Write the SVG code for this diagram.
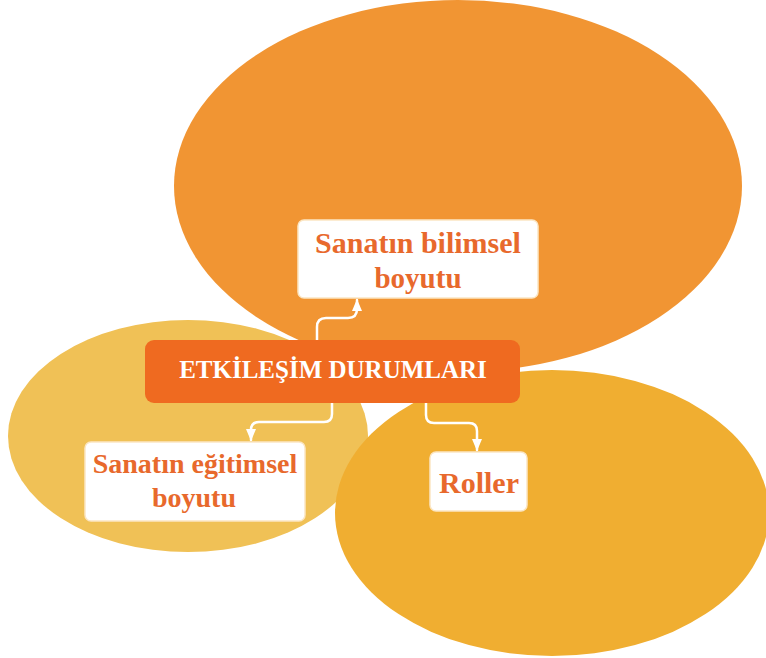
<svg xmlns="http://www.w3.org/2000/svg" width="766" height="658" viewBox="0 0 766 658">
<defs>
<style>
.box{fill:#ffffff;stroke:#fbe6c4;stroke-width:1.5}
.lbl{font-family:"Liberation Serif","Times New Roman",serif;font-weight:bold;fill:#e8692c;text-anchor:middle}
.main{font-family:"Liberation Serif","Times New Roman",serif;font-weight:bold;fill:#ffffff;text-anchor:middle;font-size:25px}
.conn{fill:none;stroke:#ffffff;stroke-width:2.5;stroke-linecap:round}
</style>
<marker id="arr" viewBox="0 0 12 10" refX="11" refY="5" markerWidth="12" markerHeight="10" markerUnits="userSpaceOnUse" orient="auto">
<path d="M0,0 L12,5 L0,10 z" fill="#ffffff"/>
</marker>
</defs>
<rect width="766" height="658" fill="#ffffff"/>
<g id="backgrounds">
<ellipse cx="188" cy="436" rx="180" ry="116" fill="#f0c156"/>
<ellipse cx="458" cy="186" rx="284" ry="186" fill="#f19533"/>
<ellipse cx="552" cy="513" rx="217" ry="143" fill="#f0ae31"/>
</g>
<g id="connectors">
<path class="conn" d="M317,340 V327 Q317,318 326,318 H348 Q357,318 357,309 V300" marker-end="url(#arr)"/>
<path class="conn" d="M332,403 V414 Q332,422 324,422 H259 Q251,422 251,430 V440" marker-end="url(#arr)"/>
<path class="conn" d="M426,403 V415 Q426,423 434,423 H469 Q477,423 477,431 V450" marker-end="url(#arr)"/>
</g>
<g id="main">
<rect x="145" y="340" width="375" height="63" rx="9" fill="#ef6a20"/>
<text class="main" x="333" y="378">ETKİLEŞİM DURUMLARI</text>
</g>
<g id="bilimsel">
<rect class="box" x="298" y="220" width="240" height="78" rx="6"/>
<text class="lbl" x="418" y="253" font-size="30">Sanatın bilimsel</text>
<text class="lbl" x="418" y="288" font-size="29">boyutu</text>
</g>
<g id="egitimsel">
<rect class="box" x="85" y="442" width="220" height="79" rx="6"/>
<text class="lbl" x="195" y="473" font-size="28">Sanatın eğitimsel</text>
<text class="lbl" x="194" y="507" font-size="28">boyutu</text>
</g>
<g id="roller">
<rect class="box" x="430" y="452" width="97" height="59" rx="6"/>
<text class="lbl" x="479" y="493" font-size="30">Roller</text>
</g>
</svg>
